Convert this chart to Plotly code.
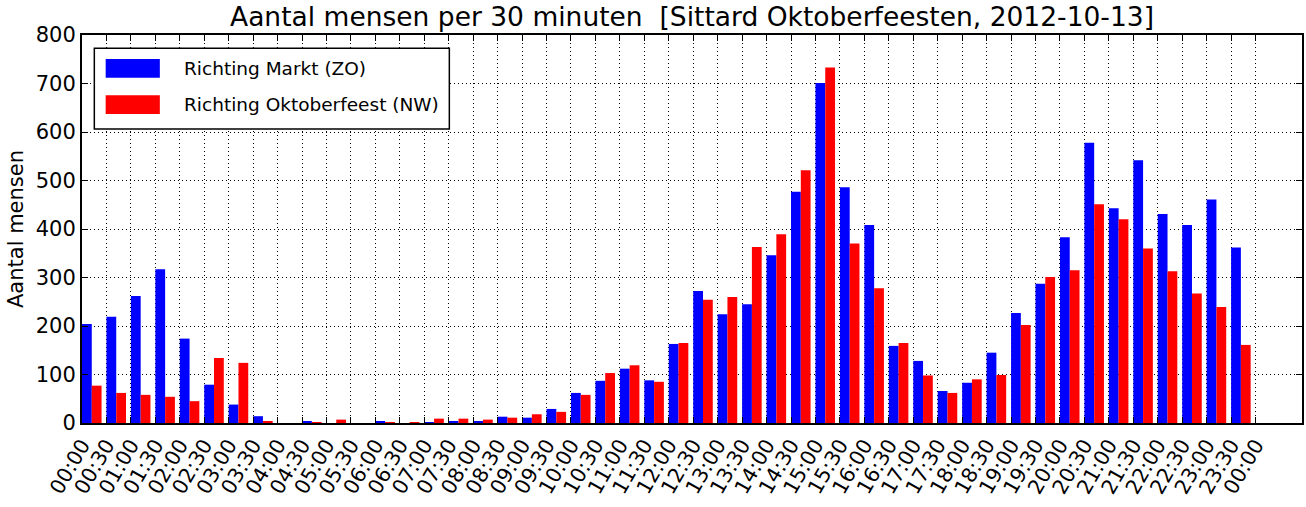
import plotly.graph_objects as go

slot_index = list(range(48))
tick_positions = list(range(49))
tick_labels = ["00:00", "00:30", "01:00", "01:30", "02:00", "02:30", "03:00", "03:30",
               "04:00", "04:30", "05:00", "05:30", "06:00", "06:30", "07:00", "07:30",
               "08:00", "08:30", "09:00", "09:30", "10:00", "10:30", "11:00", "11:30",
               "12:00", "12:30", "13:00", "13:30", "14:00", "14:30", "15:00", "15:30",
               "16:00", "16:30", "17:00", "17:30", "18:00", "18:30", "19:00", "19:30",
               "20:00", "20:30", "21:00", "21:30", "22:00", "22:30", "23:00", "23:30",
               "00:00"]

markt_zo = [204, 219, 262, 317, 174, 79, 38, 14, 0, 4, 0, 0, 4, 0, 2, 3,
            4, 13, 11, 29, 62, 87, 112, 88, 163, 272, 224, 245, 346, 477, 701, 486,
            408, 159, 128, 66, 83, 145, 227, 287, 383, 578, 443, 542, 431, 408, 461, 362]
oktoberfeest_nw = [77, 62, 58, 54, 45, 134, 124, 4, 0, 1, 7, 0, 1, 1, 9, 9,
                   7, 11, 18, 23, 58, 103, 119, 85, 165, 254, 260, 363, 389, 521, 733, 370,
                   278, 165, 98, 62, 90, 99, 202, 301, 315, 451, 420, 360, 313, 267, 239, 161]

series_names = ["Richting Markt (ZO)", "Richting Oktoberfeest (NW)"]
series_colors = ["#0000ff", "#ff0000"]

FONT = "DejaVu Sans"

fig = go.Figure()
fig.add_trace(go.Bar(x=slot_index, y=markt_zo, offset=0.0, width=0.4,
                     marker=dict(color=series_colors[0], line=dict(width=0)),
                     name=series_names[0], showlegend=False))
fig.add_trace(go.Bar(x=slot_index, y=oktoberfeest_nw, offset=0.4, width=0.4,
                     marker=dict(color=series_colors[1], line=dict(width=0)),
                     name=series_names[1], showlegend=False))

# manual matplotlib-style legend
shapes = [
    dict(type="rect", xref="paper", yref="paper", x0=0.0101, x1=0.3011, y0=0.7577, y1=0.9657,
         line=dict(color="black", width=1.5), fillcolor="white", layer="above"),
    dict(type="rect", xref="paper", yref="paper", x0=0.0194, x1=0.0638, y0=0.8899, y1=0.9381,
         line=dict(width=0), fillcolor=series_colors[0], layer="above"),
    dict(type="rect", xref="paper", yref="paper", x0=0.0194, x1=0.0638, y0=0.7964, y1=0.8446,
         line=dict(width=0), fillcolor=series_colors[1], layer="above"),
]
annotations = [
    dict(text=series_names[0], xref="paper", yref="paper", x=0.0821, y=0.9129,
         xanchor="left", yanchor="middle", showarrow=False, font=dict(family=FONT, size=18.5, color="black")),
    dict(text=series_names[1], xref="paper", yref="paper", x=0.0821, y=0.8204,
         xanchor="left", yanchor="middle", showarrow=False, font=dict(family=FONT, size=18.5, color="black")),
]

fig.update_layout(
    width=1306, height=507,
    margin=dict(l=82, r=2, t=35, b=84),
    paper_bgcolor="white", plot_bgcolor="white",
    barmode="overlay",
    font=dict(family=FONT, size=20, color="black"),
    title=dict(text="Aantal mensen per 30 minuten  [Sittard Oktoberfeesten, 2012-10-13]",
               x=0.5, xref="paper", xanchor="center", y=1 - 17 / 507, yref="container",
               yanchor="middle", font=dict(family=FONT, size=26.5, color="black")),
    shapes=shapes, annotations=annotations,
    showlegend=False,
)
fig.update_xaxes(range=[0, 49.9], tickmode="array", tickvals=tick_positions, ticktext=tick_labels,
                 tickangle=-60, ticks="inside", ticklen=6, tickcolor="black",
                 showline=True, linecolor="black", linewidth=2, mirror="ticks",
                 showgrid=True, gridcolor="black", gridwidth=1, griddash="1px,3px",
                 zeroline=False, tickfont=dict(family=FONT, size=20.5, color="black"))
fig.update_yaxes(range=[0, 800], dtick=100, ticks="inside", ticklen=6, tickcolor="black",
                 showline=True, linecolor="black", linewidth=2, mirror="ticks",
                 showgrid=True, gridcolor="black", gridwidth=1, griddash="1px,3px",
                 zeroline=False, tickfont=dict(family=FONT, size=21, color="black"),
                 title=dict(text="Aantal mensen", font=dict(family=FONT, size=21, color="black"), standoff=6))

fig.write_html("out.html")
